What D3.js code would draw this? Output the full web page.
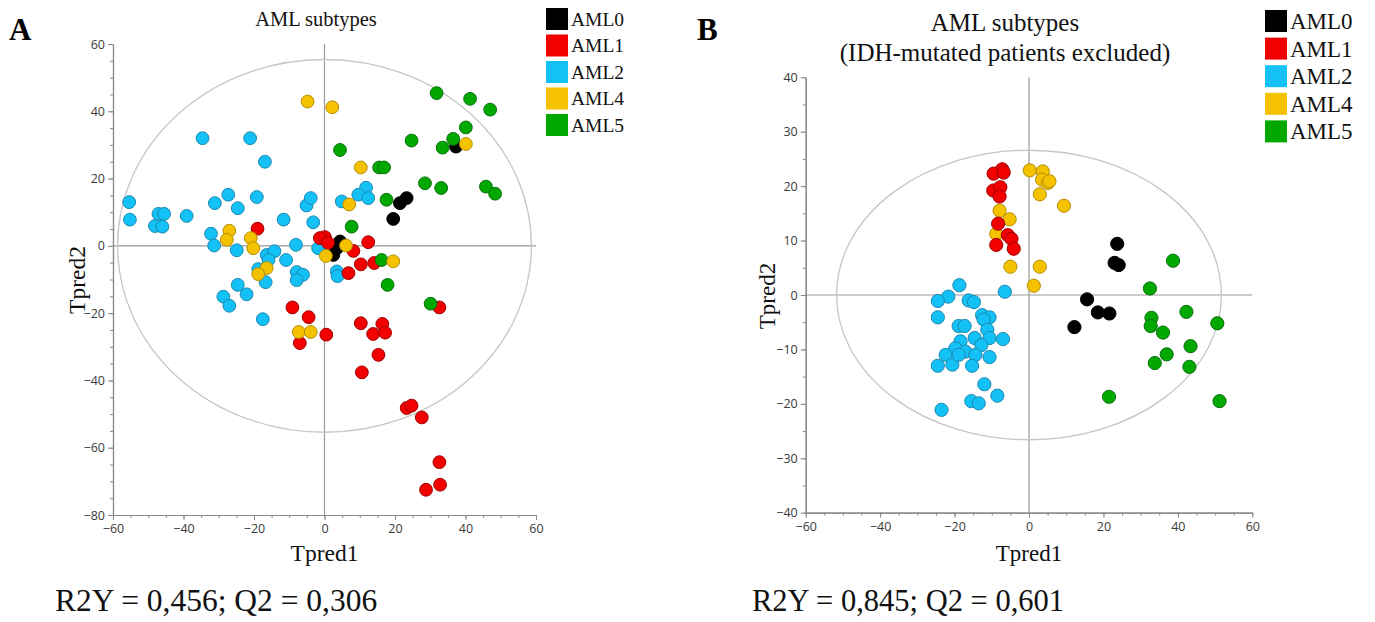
<!DOCTYPE html>
<html><head><meta charset="utf-8">
<script src="https://cdn.jsdelivr.net/npm/d3@7"></script>
<style>body{margin:0;background:#fff} svg{display:block}</style>
</head><body>
<svg id="c" width="1375" height="622"></svg>
<script>
const groups = ["AML0","AML1","AML2","AML4","AML5"];
const fills = ["#000000","#f20000","#14c1f7","#f5c200","#00a800"];
const strokes = ["#000000","#a00000","#1b88b0","#b48e00","#0b7010"];

const xTicksA = [-60,-40,-20,0,20,40,60];
const yTicksA = [-80,-60,-40,-20,0,20,40,60];
const xTicksB = [-60,-40,-20,0,20,40,60];
const yTicksB = [-40,-30,-20,-10,0,10,20,30,40];

// Panel A scores [Tpred1, Tpred2]
const aml0A = [[37.3,29.5],[23.3,14.2],[21.4,12.7],[19.5,8.0],[4.4,1.3],[3.5,-0.7],[2.5,-2.7]];
const aml1A = [[-19.0,5.1],[0.1,2.6],[-1.3,2.3],[1.0,0.9],[12.4,1.1],[8.2,-1.5],[10.3,-5.5],[14.1,-5.1],[6.8,-8.1],[32.6,-18.3],[-9.1,-18.3],[-4.5,-21.2],[-7.0,-28.9],[0.5,-26.4],[10.3,-23.0],[16.4,-23.2],[13.8,-26.2],[17.2,-25.8],[15.3,-32.4],[10.6,-37.6],[23.3,-48.2],[24.7,-47.5],[27.6,-51.0],[32.6,-64.3],[32.8,-71.0],[28.8,-72.5]];
const aml2A = [[-34.6,32.0],[-21.1,32.0],[-16.9,25.0],[-55.4,13.0],[-55.2,7.8],[-47.1,9.5],[-45.5,9.5],[-48.1,5.9],[-46.0,5.7],[-39.1,8.9],[-31.1,12.7],[-27.3,15.2],[-24.6,11.2],[-19.2,14.5],[-5.1,12.0],[-3.9,14.2],[-11.6,7.8],[-3.2,7.0],[-32.2,3.6],[-31.3,0.1],[-24.9,-1.3],[-8.1,0.3],[-1.8,-0.7],[-16.4,-2.7],[-14.2,-1.6],[-15.9,-4.2],[-10.9,-4.2],[-18.8,-6.9],[-16.7,-10.8],[-7.9,-7.8],[-6.1,-8.6],[-7.9,-10.2],[-24.6,-11.6],[-22.1,-14.4],[-28.7,-15.1],[-27.0,-17.8],[-17.5,-21.8],[11.8,17.3],[9.6,15.2],[12.4,14.2],[4.9,13.2],[3.5,-7.6],[3.7,-9.0]];
const aml4A = [[-4.8,42.9],[2.2,41.2],[10.3,23.3],[40.1,30.3],[7.0,12.3],[-27.0,4.5],[-27.7,1.8],[-20.9,2.3],[-20.2,-0.7],[6.1,0.1],[0.4,-3.0],[19.5,-4.6],[-16.4,-6.6],[-18.8,-8.4],[-7.3,-25.6],[-3.9,-25.6]];
const aml5A = [[31.8,45.4],[41.3,43.7],[47.0,40.5],[40.1,35.2],[24.7,31.3],[36.5,31.8],[33.5,29.2],[4.4,28.5],[15.5,23.3],[16.9,23.3],[28.5,18.6],[33.1,17.2],[45.8,17.6],[48.4,15.5],[17.6,13.7],[7.7,5.7],[16.2,-4.2],[17.9,-11.6],[30.1,-17.2]];

// Panel B scores
const aml0B = [[23.7,9.4],[23.0,5.9],[24.1,5.5],[15.6,-0.8],[18.5,-3.2],[21.6,-3.4],[12.2,-5.9]];
const aml1B = [[-7.2,23.1],[-9.5,22.3],[-6.8,22.5],[-9.6,19.2],[-7.7,19.8],[-7.9,18.1],[-8.3,13.1],[-5.7,11.0],[-4.7,10.3],[-4.1,8.5],[-8.8,9.2]];
const aml2B = [[-18.7,1.8],[-6.5,0.6],[-21.7,-0.3],[-24.5,-1.1],[-16.2,-1.0],[-14.8,-1.3],[-24.5,-4.1],[-12.6,-3.7],[-10.6,-4.1],[-12.2,-4.5],[-18.9,-5.7],[-17.3,-5.7],[-11.2,-6.4],[-14.6,-7.9],[-10.6,-7.9],[-7.0,-8.1],[-18.4,-8.5],[-19.8,-9.8],[-17.1,-10.4],[-12.8,-9.2],[-22.4,-11.0],[-20.6,-12.8],[-24.5,-13.0],[-18.9,-11.0],[-14.4,-11.0],[-15.3,-13.0],[-10.6,-11.4],[-12.0,-16.4],[-8.5,-18.5],[-15.5,-19.5],[-13.5,-19.9],[-23.5,-21.1]];
const aml4B = [[-7.9,15.5],[-5.2,13.9],[-8.8,11.2],[-5.0,5.2],[0.2,22.9],[3.7,22.7],[3.5,21.2],[5.1,20.6],[5.5,20.9],[2.9,18.5],[9.4,16.4],[2.9,5.2],[1.3,1.7]];
const aml5B = [[38.7,6.3],[32.5,1.2],[32.9,-4.2],[32.7,-5.7],[36.0,-6.9],[42.3,-3.1],[50.6,-5.2],[43.4,-9.4],[37.0,-10.9],[33.8,-12.5],[43.1,-13.2],[21.5,-18.7],[51.2,-19.5]];

// Hotelling ellipse semi-axes (data units)
const ellipseA = [58.7, 55.4];
const ellipseB = [51.7, 26.6];

const titleA = ["AML subtypes"];
const titleB = ["AML subtypes", "(IDH-mutated patients excluded)"];
const statsA = "R2Y = 0,456; Q2 = 0,306";
const statsB = "R2Y = 0,845; Q2 = 0,601";

const svg = d3.select("#c");
const serif = "'Liberation Serif','Times New Roman',serif";
const sans = "'Open Sans','DejaVu Sans',sans-serif";

function panel(cfg){
  const g = svg.append("g");
  const x = d3.scaleLinear().domain(cfg.xDom).range(cfg.xRange);
  const y = d3.scaleLinear().domain(cfg.yDom).range(cfg.yRange);
  const axisCol = "#8a8a8a";

  // zero lines
  g.append("line").attr("x1", x(cfg.xDom[0])).attr("x2", x(cfg.xDom[1]))
    .attr("y1", y(0)).attr("y2", y(0)).attr("stroke", "#9a9a9a").attr("stroke-width", 1.2);
  g.append("line").attr("x1", x(0)).attr("x2", x(0))
    .attr("y1", y(cfg.yDom[0])).attr("y2", y(cfg.yDom[1])).attr("stroke", "#9a9a9a").attr("stroke-width", 1.2);

  // ellipse
  g.append("ellipse").attr("cx", x(0)).attr("cy", y(0))
    .attr("rx", x(cfg.ell[0]) - x(0)).attr("ry", y(0) - y(cfg.ell[1]))
    .attr("fill", "none").attr("stroke", "#c6c6c6").attr("stroke-width", 1.3);

  // axes: minor ticks every 5, major ticks with labels
  const minorX = d3.range(cfg.xDom[0], cfg.xDom[1] + 0.1, 5);
  const minorY = d3.range(cfg.yDom[0], cfg.yDom[1] + 0.1, 5);
  const yPos = y(cfg.yDom[0]), xPos = x(cfg.xDom[0]);

  const gxm = g.append("g").attr("transform", `translate(0,${yPos})`)
    .call(d3.axisBottom(x).tickValues(minorX).tickSize(3).tickFormat("").tickSizeOuter(0));
  const gx = g.append("g").attr("transform", `translate(0,${yPos})`)
    .call(d3.axisBottom(x).tickValues(cfg.xTicks).tickSize(5).tickSizeOuter(0).tickPadding(4));
  const gym = g.append("g").attr("transform", `translate(${xPos},0)`)
    .call(d3.axisLeft(y).tickValues(minorY).tickSize(3).tickFormat("").tickSizeOuter(0));
  const gy = g.append("g").attr("transform", `translate(${xPos},0)`)
    .call(d3.axisLeft(y).tickValues(cfg.yTicks).tickSize(5).tickSizeOuter(0).tickPadding(3));
  [gxm, gx, gym, gy].forEach(a => {
    a.selectAll("path.domain").attr("stroke", axisCol).attr("stroke-width", 1.2);
    a.selectAll(".tick line").attr("stroke", axisCol);
    a.selectAll("text").attr("font-family", sans).attr("font-size", 12.5).attr("fill", "#3a3a3a");
  });
  gx.selectAll("text").attr("dy", "0.75em");

  // points
  cfg.order.forEach(i => {
    g.append("g").selectAll("circle").data(cfg.series[i]).join("circle")
      .attr("cx", d => x(d[0])).attr("cy", d => y(d[1])).attr("r", cfg.r)
      .attr("fill", fills[i]).attr("stroke", strokes[i]).attr("stroke-width", 1);
  });

  // titles
  cfg.title.forEach((t, k) => {
    g.append("text").attr("x", cfg.titleX).attr("y", cfg.titleY + k * cfg.titleLH)
      .attr("text-anchor", "middle").attr("font-family", serif).attr("font-size", cfg.titleFS)
      .attr("fill", "#111").text(t);
  });

  // legend
  groups.forEach((name, i) => {
    const ly = cfg.legY + i * cfg.legStep;
    g.append("rect").attr("x", cfg.legX).attr("y", ly).attr("width", cfg.legSq).attr("height", cfg.legSq)
      .attr("fill", fills[i]);
    g.append("text").attr("x", cfg.legX + cfg.legSq + 3).attr("y", ly + cfg.legSq / 2)
      .attr("dy", "0.35em").attr("font-family", serif).attr("font-size", cfg.legFS).attr("fill", "#111").text(name);
  });

  // axis titles
  g.append("text").attr("x", x(0)).attr("y", cfg.xLabY).attr("text-anchor", "middle")
    .attr("font-family", serif).attr("font-size", cfg.labFS).attr("fill", "#111").text("Tpred1");
  g.append("text").attr("transform", `translate(${cfg.yLabX},${cfg.yLabCY}) rotate(-90)`)
    .attr("text-anchor", "middle").attr("font-family", serif).attr("font-size", cfg.labFS).attr("fill", "#111").text("Tpred2");

  // panel letter
  g.append("text").attr("x", cfg.letX).attr("y", 40).attr("font-family", serif).attr("font-weight", "bold")
    .attr("font-size", 31).attr("fill", "#000").text(cfg.letter);

  // stats
  g.append("text").attr("x", cfg.statX).attr("y", 611).attr("font-family", serif).attr("font-size", cfg.statFS)
    .attr("fill", "#111").text(cfg.stats);
}

panel({
  xDom: [-60, 60], yDom: [-80, 60], xRange: [113, 536], yRange: [515, 44],
  xTicks: xTicksA, yTicks: yTicksA, ell: ellipseA,
  series: [aml0A, aml1A, aml2A, aml4A, aml5A], order: [0, 2, 1, 4, 3], r: 6.4,
  title: titleA, titleX: 316, titleY: 26, titleLH: 0, titleFS: 20.5,
  legX: 546, legY: 8, legStep: 26.5, legSq: 22, legFS: 19.5,
  xLabY: 561, yLabX: 85, yLabCY: 280, labFS: 23.5,
  letter: "A", letX: 9, stats: statsA, statX: 55, statFS: 31.5
});

panel({
  xDom: [-60, 60], yDom: [-40, 40], xRange: [805.7, 1252.3], yRange: [512.7, 77.3],
  xTicks: xTicksB, yTicks: yTicksB, ell: ellipseB,
  series: [aml0B, aml1B, aml2B, aml4B, aml5B], order: [2, 3, 1, 0, 4], r: 6.6,
  title: titleB, titleX: 1005, titleY: 31, titleLH: 30, titleFS: 25,
  legX: 1265, legY: 10, legStep: 27.6, legSq: 22, legFS: 23,
  xLabY: 561, yLabX: 775, yLabCY: 296, labFS: 23,
  letter: "B", letX: 697, stats: statsB, statX: 752, statFS: 30.5
});
</script>
</body></html>
